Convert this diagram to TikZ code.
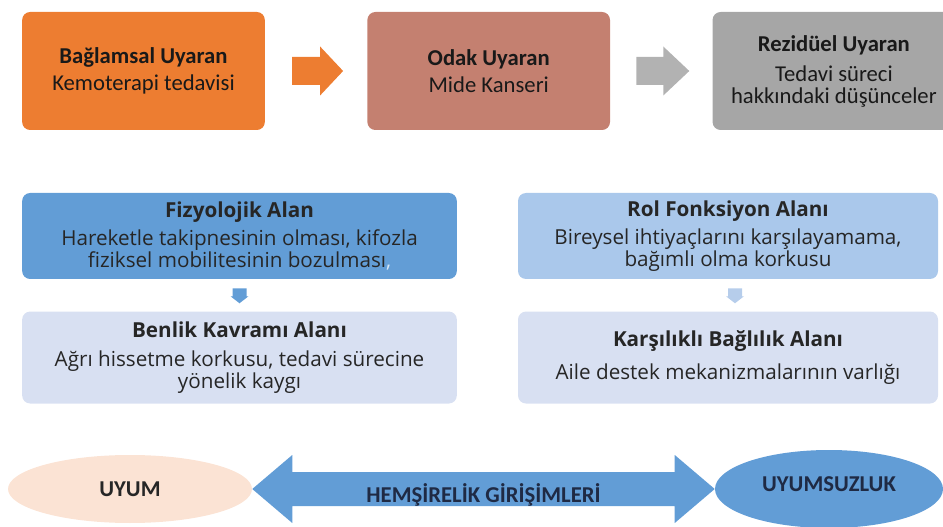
\documentclass[tikz,border=0pt]{standalone}
\usepackage{fontspec}
\setmainfont{Carlito}
\newfontfamily\areafont{Open Sans}
\usetikzlibrary{positioning,calc,shapes.geometric}
\definecolor{stimOrange}{RGB}{237,125,49}
\definecolor{stimRose}{RGB}{196,128,112}
\definecolor{stimGrey}{RGB}{166,166,166}
\definecolor{arrGrey}{RGB}{178,178,178}
\definecolor{areaBlue}{RGB}{98,157,214}
\definecolor{areaSky}{RGB}{170,200,235}
\definecolor{areaPale}{RGB}{216,224,242}
\definecolor{arrSky}{RGB}{182,205,235}
\definecolor{adaptPeach}{RGB}{251,227,212}
\definecolor{textNavy}{RGB}{31,42,68}

\begin{document}
\begin{tikzpicture}[x=0.75pt,y=-0.75pt,
    stimbox/.style={rounded corners=6pt,minimum width=182pt,minimum height=88.5pt,
      align=center,text=black!90,font=\fontsize{17}{19.5}\selectfont},
    areabox/.style={rounded corners=6pt,align=center,text=black!85,
      font=\areafont\fontsize{15.5}{16.5}\selectfont},
    endnode/.style={ellipse,inner sep=0pt,font=\bfseries\fontsize{17}{18}\selectfont}]
  \useasboundingbox (0,0) rectangle (943,527);
  \clip (0,0) rectangle (943,527);
  % stimuli
  \node[stimbox,fill=stimOrange] (ctx) at (143.5,71)
    {\textbf{Bağlamsal Uyaran}\\[1pt]Kemoterapi tedavisi};
  \node[stimbox,fill=stimRose,right=76.5pt of ctx] (focal)
    {\textbf{Odak Uyaran}\\[1pt]Mide Kanseri};
  \node[stimbox,fill=stimGrey,right=76.5pt of focal] (resid)
    {\textbf{Rezidüel Uyaran}\\[3pt]Tedavi süreci\\[-3pt]hakkındaki düşünceler};
  \fill[stimOrange] ($(ctx.east)+(27,-14)$) -- ($(ctx.east)+(55,-14)$) --
                    ($(ctx.east)+(55,-24.5)$) -- ($(ctx.east)+(78,0)$) --
                    ($(ctx.east)+(55,24.5)$) -- ($(ctx.east)+(55,14)$) --
                    ($(ctx.east)+(27,14)$) -- cycle;
  \fill[arrGrey] ($(focal.east)+(26,-14)$) -- ($(focal.east)+(53,-14)$) --
                 ($(focal.east)+(53,-24.5)$) -- ($(focal.east)+(79,0)$) --
                 ($(focal.east)+(53,24.5)$) -- ($(focal.east)+(53,14)$) --
                 ($(focal.east)+(26,14)$) -- cycle;
  % adaptive areas
  \node[areabox,fill=areaBlue,minimum width=326pt,minimum height=64.5pt] (phys) at (239.5,236)
    {\textbf{Fizyolojik Alan}\\[5pt]Hareketle takipnesinin olması, kifozla\\
     fiziksel mobilitesinin bozulması\textcolor{white!75!areaBlue}{,}};
  \node[areabox,fill=areaPale,minimum width=326pt,minimum height=69pt,below=24pt of phys] (selfc)
    {\textbf{Benlik Kavramı Alanı}\\[5pt]Ağrı hissetme korkusu, tedavi sürecine\\yönelik kaygı};
  \node[areabox,fill=areaSky,minimum width=315pt,minimum height=64.5pt] (role) at (728,236)
    {\textbf{Rol Fonksiyon Alanı}\\[4pt]Bireysel ihtiyaçlarını karşılayamama,\\bağımlı olma korkusu};
  \node[areabox,fill=areaPale,minimum width=315pt,minimum height=69pt,below=24pt of role] (inter)
    {\textbf{Karşılıklı Bağlılık Alanı}\\[8pt]Aile destek mekanizmalarının varlığı};
  \fill[areaBlue] ($(phys.south)+(-7,9)$) -- ($(phys.south)+(7,9)$) --
                  ($(phys.south)+(7,17)$) -- ($(phys.south)+(9,17)$) --
                  ($(phys.south)+(0,24)$) -- ($(phys.south)+(-9,17)$) --
                  ($(phys.south)+(-7,17)$) -- cycle;
  \fill[arrSky] ($(role.south)+(0,9)$) -- ($(role.south)+(14,9)$) --
                ($(role.south)+(14,17)$) -- ($(role.south)+(16,17)$) --
                ($(role.south)+(7,24)$) -- ($(role.south)+(-2,17)$) --
                ($(role.south)+(0,17)$) -- cycle;
  % outcomes
  \node[endnode,fill=adaptPeach,text=black!85,minimum width=183pt,minimum height=51pt] (adapt) at (130,489) {UYUM};
  \node[endnode,fill=areaBlue,text=textNavy,minimum width=171pt,minimum height=58.5pt] (misfit) at (829,489)
    {\raisebox{8pt}{UYUMSUZLUK}};
  \fill[areaBlue] (adapt.east) -- ($(adapt.east)+(40,-34)$) -- ($(adapt.east)+(40,-17)$) --
                  ($(misfit.west)+(-40,-17)$) -- ($(misfit.west)+(-40,-34)$) -- (misfit.west) --
                  ($(misfit.west)+(-40,34)$) -- ($(misfit.west)+(-40,17)$) --
                  ($(adapt.east)+(40,17)$) -- ($(adapt.east)+(40,34)$) -- cycle;
  \node[font=\bfseries\fontsize{17}{18}\selectfont,text=textNavy] (care)
    at ($(adapt.east)!0.5!(misfit.west)+(0,6)$) {HEMŞİRELİK GİRİŞİMLERİ};
\end{tikzpicture}
\end{document}
